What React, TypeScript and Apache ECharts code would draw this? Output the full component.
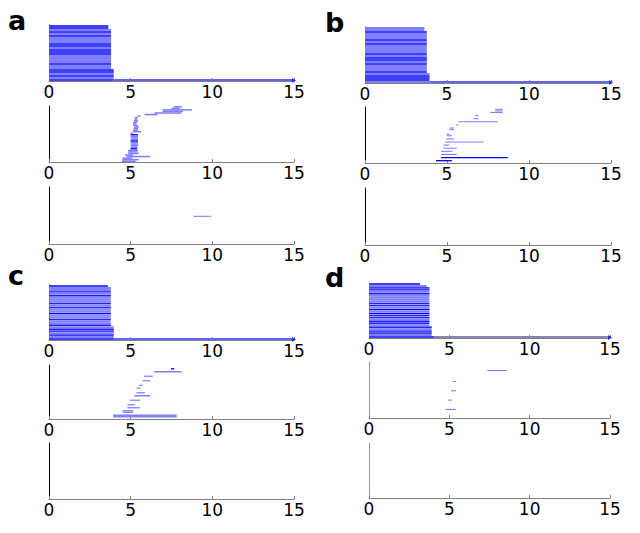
import React, { useEffect, useRef } from "react";
import * as echarts from "echarts";

// ---------- data ----------
const xTicks = [0, 5, 10, 15];
const X_MIN = 0;
const X_MAX = 15;
const ROWS_TOP = 28;
const ROWS_SUB = 36;
const panelLetters = ["a", "b", "c", "d"];

// top rasters: end time of each row (row 0 = top), all start at 0
const aTopEnds = [3.63, 3.63, 3.8, 3.8, 3.8, 3.8, 3.8, 3.8, 3.8, 3.8, 3.8, 3.8, 3.8, 3.8, 3.8, 3.8, 3.8, 3.8, 3.8, 3.8, 3.8, 3.8, 3.96, 3.96, 3.96, 3.96, 3.96, 3.96];
const bTopEnds = [3.62, 3.62, 3.77, 3.77, 3.77, 3.77, 3.77, 3.77, 3.77, 3.77, 3.77, 3.77, 3.77, 3.77, 3.77, 3.77, 3.77, 3.77, 3.77, 3.77, 3.77, 3.77, 3.77, 3.93, 3.93, 3.93, 3.93, 3.93];
const cTopEnds = [3.6, 3.78, 3.78, 3.78, 3.78, 3.78, 3.78, 3.78, 3.78, 3.78, 3.78, 3.78, 3.78, 3.78, 3.78, 3.78, 3.78, 3.78, 3.78, 3.78, 3.78, 3.96, 3.96, 3.96, 3.96, 3.96, 3.96, 3.96];
const dTopEnds = [3.17, 3.59, 3.76, 3.76, 3.76, 3.76, 3.76, 3.76, 3.76, 3.76, 3.76, 3.76, 3.76, 3.76, 3.76, 3.76, 3.76, 3.76, 3.76, 3.76, 3.76, 3.76, 3.9, 3.9, 3.9, 3.9, 3.9, 4.04];
// rows drawn darker
const aTopDark = [0, 1, 3, 5, 9, 10, 12, 13, 14, 19, 22, 23, 25, 27];
const bTopDark = [2, 6, 8, 13, 15, 16, 18, 22, 24, 25, 26];
const cTopDark = [0, 3, 5, 9, 11, 14, 17, 20, 22, 23, 25, 27];
const dTopDark = [0, 2, 3, 5, 10, 11, 13, 15, 16, 17, 19, 20, 22, 24, 25, 27];
// long last row running to the end of the record [start, end]
const aTail = [3.96, 15];
const bTail = [3.93, 15];
const cTail = [3.96, 15];
const dTail = [4.04, 15];

// middle / bottom rasters: [start, end, row from top]
const aMid = [
  [7.65, 8.13, 0], [7.5, 8.0, 1], [6.95, 8.75, 2], [6.95, 8.2, 3], [6.45, 8.1, 4],
  [5.85, 6.65, 5], [5.43, 5.6, 6], [5.25, 5.45, 7], [5.25, 5.4, 8], [5.2, 5.45, 9],
  [5.15, 5.4, 10], [5.15, 5.35, 11], [5.15, 5.45, 12], [5.2, 5.5, 13], [5.17, 5.45, 14],
  [5.15, 5.45, 15], [5.15, 5.65, 16], [5.0, 5.15, 17], [5.0, 5.45, 18], [5.0, 5.45, 19],
  [5.0, 5.45, 20], [5.0, 5.45, 21], [5.0, 5.45, 22], [5.0, 5.45, 23], [5.0, 5.45, 24],
  [5.0, 5.45, 25], [5.0, 5.4, 26], [5.0, 5.4, 27], [4.85, 5.45, 28], [4.85, 5.4, 29],
  [4.85, 5.5, 30], [4.65, 5.15, 31], [4.75, 6.2, 32], [4.5, 5.1, 33], [4.5, 5.5, 34],
  [4.45, 5.3, 35],
];
const aMidDark = [18, 22, 27];
const bMid = [
  [7.94, 8.4, 1], [7.94, 8.4, 2], [7.63, 8.4, 3], [6.72, 6.92, 5], [6.6, 6.92, 7],
  [5.7, 8.1, 9], [5.56, 5.7, 11], [5.15, 5.43, 13], [5.15, 5.43, 14], [4.95, 5.15, 17],
  [5.0, 5.3, 18], [4.95, 5.43, 20], [4.88, 7.23, 22], [4.78, 5.13, 24], [4.78, 5.6, 26],
  [4.64, 5.33, 28], [4.64, 5.6, 30], [4.64, 8.7, 32], [4.33, 5.3, 34],
];
const bMidDark = [32, 34];
const cMid = [
  [7.47, 7.66, 2], [6.43, 8.13, 4], [5.81, 6.35, 7], [5.73, 6.2, 10], [5.53, 5.73, 13],
  [5.36, 5.57, 15], [5.36, 5.87, 18], [5.22, 6.19, 20], [4.95, 5.57, 23], [4.81, 5.26, 26],
  [4.79, 5.57, 28], [4.5, 5.16, 30], [4.5, 5.16, 31], [3.93, 7.82, 33], [3.93, 7.82, 34],
];
const cMidDark = [2];
const dMid = [[7.36, 8.57, 5], [5.21, 5.4, 12], [5.11, 5.42, 18], [4.9, 5.15, 24], [4.77, 5.42, 30]];
const dMidDark: number[] = [];
const aBot = [[8.84, 9.93, 18]];
const bBot: number[][] = [];
const cBot: number[][] = [];
const dBot: number[][] = [];

// ---------- layout / style ----------
const LIGHT = "#8080ff";
const DARK = "#0000ff";
const ARROW = "#2a2aff";

type Sub = {
  left: number; top: number; width: number; height: number;
  rows: number; data: number[][]; fill: number; darkFrac: number;
  yColor: string; tailColor: string;
};

function topData(ends: number[], dark: number[], tail: number[]) {
  const d: number[][] = ends.map((e, i) => [0, e, i, dark.indexOf(i) >= 0 ? 1 : 0]);
  d.push([tail[0], tail[1], ends.length - 1, 2]);
  return d;
}
function subData(segs: number[][], dark: number[]) {
  return segs.map((s) => [s[0], s[1], s[2], dark.indexOf(s[2]) >= 0 ? 1 : 0]);
}

const subs: Sub[] = [
  // a
  { left: 49, top: 25, width: 245, height: 56, rows: ROWS_TOP, data: topData(aTopEnds, aTopDark, aTail), fill: 1, darkFrac: 0.45, yColor: "#000", tailColor: "#6262ff" },
  { left: 49, top: 106, width: 245, height: 56, rows: ROWS_SUB, data: subData(aMid, aMidDark), fill: 1, darkFrac: 0.7, yColor: "#000", tailColor: "#6262ff" },
  { left: 49, top: 187, width: 245, height: 57, rows: ROWS_SUB, data: subData(aBot, []), fill: 0.7, darkFrac: 0.7, yColor: "#000", tailColor: "#6262ff" },
  // b
  { left: 365, top: 27, width: 246, height: 56, rows: ROWS_TOP, data: topData(bTopEnds, bTopDark, bTail), fill: 1, darkFrac: 0.45, yColor: "#000", tailColor: "#6262ff" },
  { left: 365, top: 107, width: 246, height: 56, rows: ROWS_SUB, data: subData(bMid, bMidDark), fill: 0.7, darkFrac: 0.8, yColor: "#000", tailColor: "#6262ff" },
  { left: 365, top: 188, width: 246, height: 57, rows: ROWS_SUB, data: subData(bBot, []), fill: 0.7, darkFrac: 0.7, yColor: "#000", tailColor: "#6262ff" },
  // c
  { left: 49, top: 285, width: 245, height: 55, rows: ROWS_TOP, data: topData(cTopEnds, cTopDark, cTail), fill: 1, darkFrac: 0.45, yColor: "#000", tailColor: "#6262ff" },
  { left: 49, top: 365, width: 245, height: 54, rows: ROWS_SUB, data: subData(cMid, cMidDark), fill: 0.85, darkFrac: 0.8, yColor: "#000", tailColor: "#6262ff" },
  { left: 49, top: 443, width: 245, height: 56, rows: ROWS_SUB, data: subData(cBot, []), fill: 0.7, darkFrac: 0.7, yColor: "#000", tailColor: "#6262ff" },
  // d
  { left: 369, top: 283, width: 241, height: 55, rows: ROWS_TOP, data: topData(dTopEnds, dTopDark, dTail), fill: 1, darkFrac: 0.45, yColor: "#999", tailColor: "#8585b5" },
  { left: 369, top: 362, width: 241, height: 56, rows: ROWS_SUB, data: subData(dMid, dMidDark), fill: 0.7, darkFrac: 0.8, yColor: "#999", tailColor: "#8585b5" },
  { left: 369, top: 443, width: 241, height: 55, rows: ROWS_SUB, data: subData(dBot, []), fill: 0.7, darkFrac: 0.7, yColor: "#999", tailColor: "#8585b5" },
];

const letterPos = [
  [8, 34], [325, 36], [8, 289], [325, 291],
];

function makeRender(sub: Sub) {
  return (params: any, api: any) => {
    const x0 = api.value(0);
    const x1 = api.value(1);
    const row = api.value(2);
    const kind = api.value(3);
    const p0 = api.coord([x0, row]);
    const p1 = api.coord([x1, row + 1]);
    const h = p1[1] - p0[1];
    const w = p1[0] - p0[0];
    const children: any[] = [];
    if (kind === 2) {
      children.push({ type: "rect", shape: { x: p0[0], y: p0[1], width: w, height: h }, style: { fill: sub.tailColor } });
      const cy = p0[1] + h / 2 + 0.5;
      children.push({
        type: "polygon",
        shape: { points: [[p1[0] - 2, cy - 2.5], [p1[0] + 2, cy], [p1[0] - 2, cy + 2.5]] },
        style: { fill: ARROW },
      });
    } else {
      const fh = h * sub.fill;
      children.push({ type: "rect", shape: { x: p0[0], y: p0[1] + (h - fh) / 2, width: w, height: fh }, style: { fill: LIGHT } });
      if (kind === 1) {
        const dh = h * sub.darkFrac;
        children.push({ type: "rect", shape: { x: p0[0], y: p0[1] + (h - dh) / 2, width: w, height: dh }, style: { fill: DARK } });
      }
    }
    return { type: "group", children };
  };
}

export default function App() {
  const ref = useRef<HTMLDivElement>(null);
  useEffect(() => {
    document.body.style.margin = "0";
    const chart = echarts.init(ref.current!, null, { renderer: "svg" });
    const grid = subs.map((s) => ({ left: s.left, top: s.top, width: s.width, height: s.height, containLabel: false }));
    const xAxis = subs.map((s, i) => ({
      gridIndex: i,
      type: "value",
      min: X_MIN,
      max: X_MAX,
      interval: xTicks[1] - xTicks[0],
      axisLine: { show: true, onZero: false, lineStyle: { color: "#808080", width: 1 } },
      axisTick: { show: true, inside: true, length: 3, lineStyle: { color: "#808080" } },
      axisLabel: { color: "#000", fontFamily: "DejaVu Sans", fontSize: 17, margin: 2 },
      splitLine: { show: false },
    }));
    const yAxis = subs.map((s, i) => ({
      gridIndex: i,
      type: "value",
      min: 0,
      max: s.rows,
      inverse: true,
      axisLine: { show: true, onZero: false, lineStyle: { color: s.yColor, width: 1 } },
      axisTick: { show: false },
      axisLabel: { show: false },
      splitLine: { show: false },
    }));
    const series = subs.map((s, i) => ({
      type: "custom",
      xAxisIndex: i,
      yAxisIndex: i,
      renderItem: makeRender(s),
      data: s.data,
      silent: true,
      clip: false,
    }));
    const graphic = panelLetters.map((t, i) => ({
      type: "text",
      x: letterPos[i][0],
      y: letterPos[i][1],
      style: { text: t, fontFamily: "DejaVu Sans", fontWeight: "bold", fontSize: 27, fill: "#000", verticalAlign: "bottom" },
    }));
    chart.setOption({ animation: false, grid, xAxis, yAxis, series, graphic });
    return () => chart.dispose();
  }, []);
  return <div ref={ref} style={{ width: 640, height: 533 }} />;
}
